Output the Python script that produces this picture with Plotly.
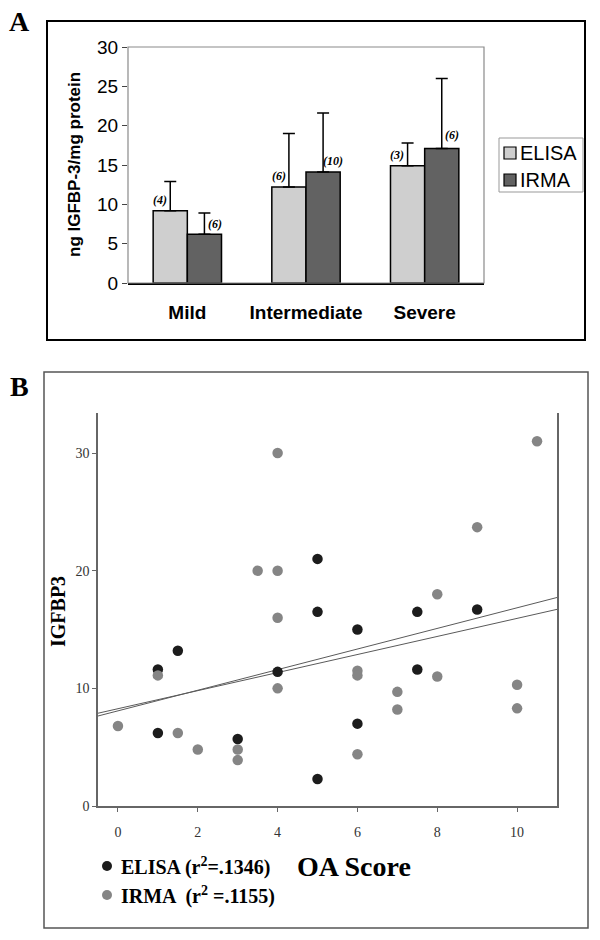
import numpy as np
import plotly.graph_objects as go

# panel A: mean IGFBP-3 by OA severity
severity = ["Mild", "Intermediate", "Severe"]
elisa_mean = [9.2, 12.2, 14.9]
elisa_err = [3.7, 6.8, 2.9]
elisa_n = [4, 6, 3]
irma_mean = [6.2, 14.1, 17.1]
irma_err = [2.7, 7.5, 8.9]
irma_n = [6, 10, 6]

# panel B: IGFBP3 vs OA score
elisa_x = [1, 1, 1.5, 3, 4, 5, 5, 5, 6, 6, 7.5, 7.5, 9]
elisa_y = [11.6, 6.2, 13.2, 5.7, 11.4, 21, 16.5, 2.3, 15, 7, 16.5, 11.6, 16.7]
irma_x = [0, 1, 1.5, 2, 3, 3, 3.5, 4, 4, 4, 4, 6, 6, 6, 7, 7, 8, 8, 9, 10, 10, 10.5]
irma_y = [6.8, 11.1, 6.2, 4.8, 4.8, 3.9, 20, 30, 20, 16, 10, 11.5, 11.1, 4.4,
          9.7, 8.2, 18, 11, 23.7, 10.3, 8.3, 31]
elisa_r2 = ".1346"
irma_r2 = ".1155"
x_ticks = [0, 2, 4, 6, 8, 10]

W, H = 600, 940
SANS = "Liberation Sans, Arial, sans-serif"
SERIF = "Liberation Serif, Times New Roman, serif"
ELISA_BAR, IRMA_BAR = "#cfcfcf", "#626262"
ELISA_DOT, IRMA_DOT = "#1c1c1c", "#858585"


def px_x(v):
    return v / W


def px_y(v):
    return 1 - v / H


def label(x, y, text, size, family, angle=0, xanchor="center"):
    return dict(x=px_x(x), y=px_y(y), xref="paper", yref="paper", text=text,
                textangle=angle, showarrow=False, xanchor=xanchor, yanchor="middle",
                font=dict(family=family, size=size, color="black"))


fig = go.Figure()

fig.add_trace(go.Bar(
    x=severity, y=elisa_mean, name="ELISA", showlegend=False,
    marker=dict(color=ELISA_BAR, line=dict(color="black", width=1.5)),
    error_y=dict(type="data", array=elisa_err, symmetric=False,
                 arrayminus=[0] * 3, color="black", thickness=1.5, width=6),
    xaxis="x", yaxis="y",
))
fig.add_trace(go.Bar(
    x=severity, y=irma_mean, name="IRMA", showlegend=False,
    marker=dict(color=IRMA_BAR, line=dict(color="black", width=1.5)),
    error_y=dict(type="data", array=irma_err, symmetric=False,
                 arrayminus=[0] * 3, color="black", thickness=1.5, width=6),
    xaxis="x", yaxis="y",
))

# regression lines
line_x = np.array([-0.5, 11.0])
for xs, ys in [(elisa_x, elisa_y), (irma_x, irma_y)]:
    slope, icpt = np.polyfit(xs, ys, 1)
    fig.add_trace(go.Scatter(
        x=line_x, y=slope * line_x + icpt, mode="lines",
        line=dict(color="#5a5a5a", width=1), showlegend=False,
        hoverinfo="skip", xaxis="x2", yaxis="y2",
    ))

fig.add_trace(go.Scatter(
    x=elisa_x, y=elisa_y, mode="markers", name="ELISA", showlegend=False,
    marker=dict(color=ELISA_DOT, size=10.5), xaxis="x2", yaxis="y2",
))
fig.add_trace(go.Scatter(
    x=irma_x, y=irma_y, mode="markers", name="IRMA", showlegend=False,
    marker=dict(color=IRMA_DOT, size=10.5), xaxis="x2", yaxis="y2",
))

annotations = []
for i in range(3):
    annotations.append(dict(
        x=i - 0.23, y=elisa_mean[i] + 1.4, xref="x", yref="y",
        text="<b><i>(%d)</i></b>" % elisa_n[i], showarrow=False,
        xanchor="center", yanchor="middle",
        font=dict(family=SERIF, size=12, color="black"),
    ))
    annotations.append(dict(
        x=i + 0.23, y=irma_mean[i] + (1.7 if i == 2 else 1.35), xref="x", yref="y",
        text="<b><i>(%d)</i></b>" % irma_n[i], showarrow=False,
        xanchor="center", yanchor="middle",
        font=dict(family=SERIF, size=12, color="black"),
    ))

annotations += [
    label(19, 22, "<b>A</b>", 28, SERIF),
    label(19, 386, "<b>B</b>", 28, SERIF),
    label(75, 165, "<b>ng IGFBP-3/mg protein</b>", 17, SANS, angle=-90),
    label(58, 612, "<b>IGFBP3</b>", 20, SERIF, angle=-90),
    label(354, 866, "<b>OA Score</b>", 28, SERIF),
    # legend of panel A
    label(518, 153, "ELISA", 20, SANS, xanchor="left"),
    label(518, 180, "IRMA", 20, SANS, xanchor="left"),
    # legend of panel B
    label(119, 866, "<b>ELISA (r<sup>2</sup>=" + elisa_r2 + ")</b>", 20, SERIF, xanchor="left"),
    label(119, 895, "<b>IRMA  (r<sup>2</sup> =" + irma_r2 + ")</b>", 20, SERIF, xanchor="left"),
]

shapes = [
    # panel frames
    dict(type="rect", xref="paper", yref="paper",
         x0=px_x(47), x1=px_x(585), y0=px_y(340), y1=px_y(21),
         line=dict(color="black", width=2)),
    dict(type="rect", xref="paper", yref="paper",
         x0=px_x(44), x1=px_x(588), y0=px_y(928), y1=px_y(372),
         line=dict(color="#555555", width=1.5)),
    # plot border of panel A
    dict(type="rect", xref="x domain", yref="y domain", x0=0, x1=1, y0=0, y1=1,
         line=dict(color="#8a8a8a", width=1.2)),
    # legend box + swatches of panel A
    dict(type="rect", xref="paper", yref="paper",
         x0=px_x(499), x1=px_x(583), y0=px_y(192), y1=px_y(138),
         line=dict(color="#999999", width=1)),
    dict(type="rect", xref="paper", yref="paper",
         x0=px_x(504), x1=px_x(516), y0=px_y(159), y1=px_y(147),
         fillcolor=ELISA_BAR, line=dict(color="black", width=1.2)),
    dict(type="rect", xref="paper", yref="paper",
         x0=px_x(504), x1=px_x(516), y0=px_y(186), y1=px_y(174),
         fillcolor=IRMA_BAR, line=dict(color="black", width=1.2)),
    # legend markers of panel B
    dict(type="circle", xref="paper", yref="paper",
         x0=px_x(102), x1=px_x(112), y0=px_y(871), y1=px_y(861),
         fillcolor=ELISA_DOT, line=dict(width=0)),
    dict(type="circle", xref="paper", yref="paper",
         x0=px_x(102), x1=px_x(112), y0=px_y(900), y1=px_y(890),
         fillcolor=IRMA_DOT, line=dict(width=0)),
]

fig.update_layout(
    width=W, height=H,
    margin=dict(l=0, r=0, t=0, b=0, autoexpand=False),
    paper_bgcolor="white", plot_bgcolor="white",
    barmode="group", bargap=0.424, bargroupgap=0,
    showlegend=False,
    xaxis=dict(domain=[px_x(128), px_x(484)], range=[-0.5, 2.5],
               showline=True, linecolor="black", linewidth=1.5,
               ticks="", showgrid=False, ticklabelstandoff=11,
               tickfont=dict(family=SANS, size=19, color="black"),
               tickprefix="<b>", ticksuffix="</b>", anchor="y", automargin=False),
    yaxis=dict(domain=[px_y(283), px_y(47)], range=[0, 30], dtick=5,
               ticks="outside", ticklen=5, tickcolor="#444", showgrid=False,
               showline=False, zeroline=False, automargin=False,
               tickfont=dict(family=SANS, size=19, color="black"), anchor="x"),
    xaxis2=dict(domain=[px_x(98), px_x(557)], range=[-0.5, 11],
                tickvals=x_ticks, ticks="outside", ticklen=4, tickcolor="#666",
                showline=True, linecolor="#666", linewidth=1.5, showgrid=False,
                zeroline=False, ticklabelstandoff=8, automargin=False,
                tickfont=dict(family=SERIF, size=14, color="#333"), anchor="y2"),
    yaxis2=dict(domain=[px_y(806), px_y(413)], range=[0, 33.4],
                tickvals=[0, 10, 20, 30], ticks="outside", ticklen=4,
                tickcolor="#666", showline=True, mirror=True, linecolor="#666",
                linewidth=1.5, showgrid=False, zeroline=False, automargin=False,
                tickfont=dict(family=SERIF, size=14, color="#333"), anchor="x2"),
    annotations=annotations,
    shapes=shapes,
)

fig.write_html("out.html", config={"displayModeBar": False},
               post_script="document.body.style.margin='0';")
